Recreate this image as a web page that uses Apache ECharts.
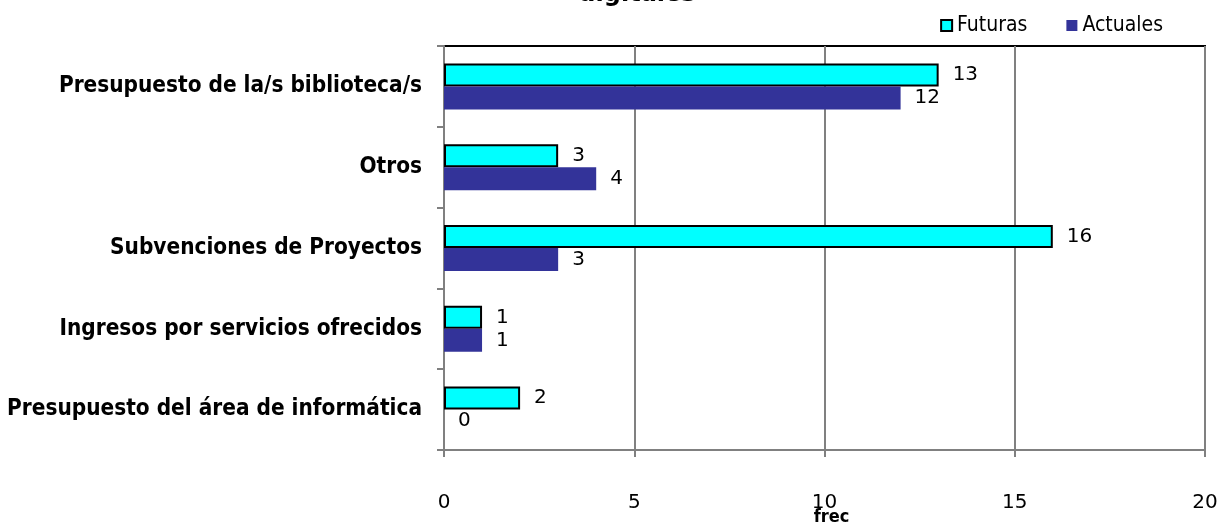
<!DOCTYPE html>
<html>
<head>
<meta charset="utf-8">
<script src="https://cdn.jsdelivr.net/npm/echarts@6/dist/echarts.min.js"></script>
<style>
html, body { margin: 0; padding: 0; background: #fff; }
#chart { width: 1228px; height: 523px; }
</style>
</head>
<body>
<div id="chart"></div>
<script>
// categories listed top to bottom
let categories = [
	'Presupuesto de la/s biblioteca/s',
	'Otros',
	'Subvenciones de Proyectos',
	'Ingresos por servicios ofrecidos',
	'Presupuesto del área de informática'
];
let futuras = [13, 3, 16, 1, 2];
let actuales = [12, 4, 3, 1, 0];
let seriesNames = ['Futuras', 'Actuales'];
let xTicks = [0, 20, 5];   // min, max, interval

let myChart = echarts.init(document.getElementById('chart'));

let labelStyle = {
	show: true,
	position: 'right',
	distance: 14,
	color: '#000',
	fontFamily: 'DejaVu Sans',
	fontSize: 20
};

let option = {
	animation: false,
	title: {
		text: 'digitales',
		left: 632,
		textAlign: 'center',
		top: -22,
		textStyle: {
			color: '#000',
			fontFamily: 'DejaVu Sans',
			fontWeight: 'bold',
			fontSize: 24
		}
	},
	legend: {
		right: 60,
		top: 10,
		itemWidth: 11,
		itemHeight: 11,
		itemGap: 39,
		textStyle: {
			color: '#000',
			fontFamily: 'DejaVu Sans Condensed',
			fontSize: 21
		},
		data: [
			{name: seriesNames[0], icon: 'rect', itemStyle: {borderColor: '#000', borderWidth: 2}},
			{name: seriesNames[1], icon: 'rect'}
		]
	},
	grid: {
		left: 444,
		right: 23,
		top: 46,
		bottom: 73,
		show: true,
		borderColor: '#000',
		borderWidth: 2,
		containLabel: false,
		outerBoundsMode: 'none'
	},
	xAxis: {
		type: 'value',
		min: xTicks[0],
		max: xTicks[1],
		interval: xTicks[2],
		name: 'frec',
		nameLocation: 'middle',
		nameGap: 58,
		nameMoveOverlap: false,
		nameTextStyle: {
			color: '#000',
			fontFamily: 'DejaVu Sans Condensed',
			fontWeight: 'bold',
			fontSize: 18,
			padding: [0, 0, 0, 14]
		},
		axisLine: {show: true, lineStyle: {color: '#808080', width: 2}},
		axisTick: {show: true, length: 7, lineStyle: {color: '#808080', width: 2}},
		axisLabel: {
			margin: 43,
			color: '#000',
			fontFamily: 'DejaVu Sans',
			fontSize: 20
		},
		splitLine: {show: true, lineStyle: {color: '#808080', width: 2}}
	},
	yAxis: {
		type: 'category',
		inverse: true,
		data: categories,
		axisLine: {show: true, lineStyle: {color: '#808080', width: 2}},
		axisTick: {show: true, length: 7, lineStyle: {color: '#808080', width: 2}},
		axisLabel: {
			margin: 22,
			color: '#000',
			fontFamily: 'DejaVu Sans Condensed',
			fontWeight: 'bold',
			fontSize: 22.4
		},
		splitLine: {show: false}
	},
	series: [{
		name: seriesNames[0],
		type: 'bar',
		data: futuras,
		barWidth: 23,
		barGap: '0%',
		itemStyle: {color: '#00ffff', borderColor: '#000', borderWidth: 2},
		label: labelStyle
	}, {
		name: seriesNames[1],
		type: 'bar',
		data: actuales,
		barWidth: 23,
		barGap: '0%',
		itemStyle: {color: '#333399'},
		label: labelStyle
	}]
};
myChart.setOption(option);
</script>
</body>
</html>
